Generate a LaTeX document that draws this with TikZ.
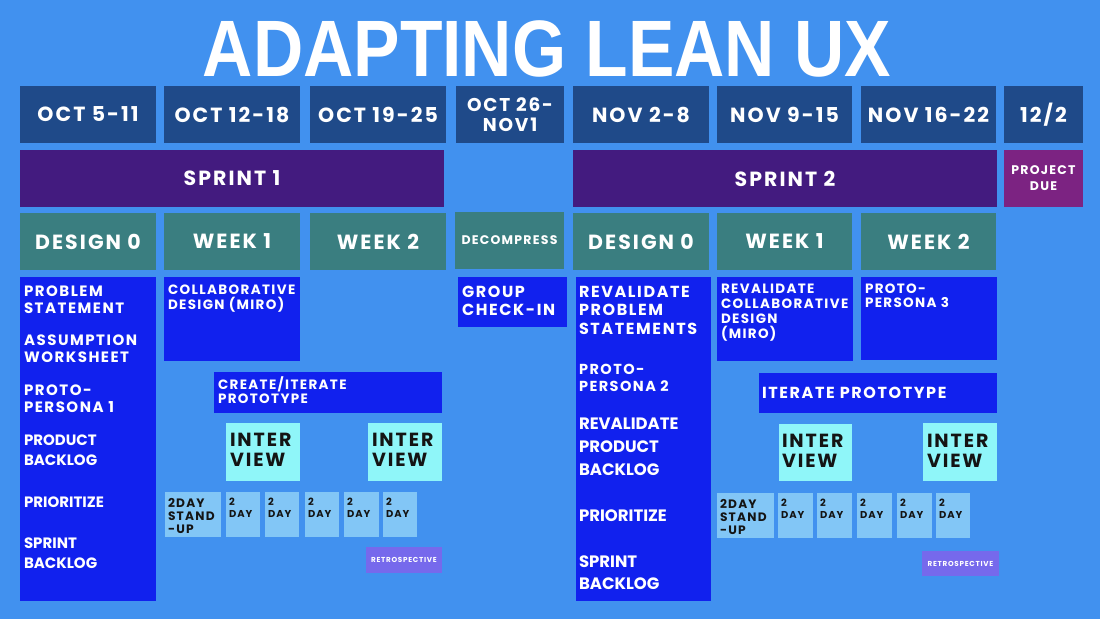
\documentclass[tikz,border=0pt]{standalone}
\usepackage{fontspec}
\usepackage{graphicx}
\setmainfont{Poppins}
\newfontfamily\titlefont{Liberation Sans}
\newfontfamily\widefam[LetterSpace=10]{Poppins}
\newfontfamily\tightfam{Poppins}
\newcommand\fw[2]{\widefam\bfseries\fontsize{#1}{#2}\selectfont}
\newcommand\ft[2]{\tightfam\bfseries\fontsize{#1}{#2}\selectfont}
\definecolor{bgC}{HTML}{4191EF}
\definecolor{dateC}{HTML}{1F4A89}
\definecolor{sprintC}{HTML}{431B7F}
\definecolor{dueC}{HTML}{7C2382}
\definecolor{tealC}{HTML}{3A7E80}
\definecolor{royalC}{HTML}{1121EE}
\definecolor{cyanC}{HTML}{8FF6F9}
\definecolor{skyC}{HTML}{82C6F6}
\definecolor{retroC}{HTML}{7669EC}
\definecolor{inkC}{HTML}{141414}
\newcommand\bx[7]{\node[#6, minimum width={(#4-#2)*1pt}, minimum height={(#5-#3)*1pt}] (#1) at ({(#2+#4)/2},{(#3+#5)/2}) {#7};}
\tikzset{
  box/.style={rectangle, inner sep=0pt, outer sep=0pt, align=center, text=white},
  datebox/.style={box, fill=dateC, font=\fw{20.5}{22}},
  sprintbox/.style={box, fill=sprintC, font=\fw{20.5}{22}},
  duebox/.style={box, fill=dueC, font=\fw{12.5}{16}},
  weekbox/.style={box, fill=tealC, font=\fw{20.5}{22}},
  bluebox/.style={box, fill=royalC},
  interbox/.style={box, fill=cyanC},
  daybox/.style={box, fill=skyC},
  retrobox/.style={box, fill=retroC, font=\fw{7.2}{8}},
  txt/.style={anchor=base west, align=left, inner sep=0pt, outer sep=0pt, text=white},
  inktxt/.style={txt, text=inkC},
}
\begin{document}
\begin{tikzpicture}[x=1pt,y=-1pt]
\fill[bgC] (0,0) rectangle (1100,619);
\useasboundingbox (0,0) rectangle (1100,619);
% title
\node[anchor=base, inner sep=0pt, text=white, font=\titlefont\bfseries\fontsize{80}{80}\selectfont] (title) at (547,76) {\scalebox{0.87}[1]{ADAPTING LEAN UX}};
% dates
\bx{d1}{20}{86}{156}{143}{datebox}{OCT 5-11}
\bx{d2}{164}{86}{300}{143}{datebox}{OCT 12-18}
\bx{d3}{310}{86}{446}{143}{datebox}{OCT 19-25}
\bx{d4}{456}{86}{564}{143}{datebox, font=\fw{18.5}{20}}{OCT 26-\\NOV1}
\bx{d5}{573}{86}{709}{143}{datebox}{NOV 2-8}
\bx{d6}{717}{86}{852}{143}{datebox}{NOV 9-15}
\bx{d7}{861}{86}{996}{143}{datebox}{NOV 16-22}
\bx{d8}{1004}{86}{1083}{143}{datebox}{12/2}
% sprints
\bx{s1}{20}{150}{444}{207}{sprintbox}{SPRINT 1}
\bx{s2}{573}{150}{997}{207}{sprintbox}{SPRINT 2}
\bx{due}{1004}{150}{1083}{207}{duebox}{PROJECT\\DUE}
% weeks
\bx{w1}{20}{213}{156}{270}{weekbox}{DESIGN 0}
\bx{w2}{164}{213}{300}{270}{weekbox}{WEEK 1}
\bx{w3}{310}{213}{446}{270}{weekbox}{WEEK 2}
\bx{w4}{455}{212}{564}{269}{weekbox, font=\fw{12.5}{14}}{DECOMPRESS}
\bx{w5}{573}{213}{709}{270}{weekbox}{DESIGN 0}
\bx{w6}{717}{213}{852}{270}{weekbox}{WEEK 1}
\bx{w7}{861}{213}{996}{270}{weekbox}{WEEK 2}
% sprint 1 blue boxes (text anchors are at the baseline of the last line)
\bx{L1}{20}{277}{156}{601}{bluebox}{}
\node[txt, font=\fw{15}{17}] (l1a) at (24,313) {PROBLEM\\STATEMENT};
\node[txt, font=\fw{15}{17}] (l1b) at (24,362) {ASSUMPTION\\WORKSHEET};
\node[txt, font=\fw{15}{17}] (l1c) at (24,412) {PROTO-\\PERSONA 1};
\node[txt, font=\ft{15}{20}] (l1d) at (24,465) {PRODUCT\\BACKLOG};
\node[txt, font=\ft{15}{20}] (l1e) at (24,507) {PRIORITIZE};
\node[txt, font=\ft{15}{20}] (l1f) at (24,568) {SPRINT\\BACKLOG};
\bx{C1}{164}{277}{300}{361}{bluebox}{}
\node[txt, font=\fw{13.5}{15}] (c1t) at (168,309) {COLLABORATIVE\\DESIGN (MIRO)};
\bx{C2}{214}{372}{442}{413}{bluebox}{}
\node[txt, font=\fw{13.5}{14.5}] (c2t) at (218,403.5) {CREATE/ITERATE\\PROTOTYPE};
% interviews sprint 1
\bx{I1}{226}{423}{300}{481}{interbox}{}
\node[inktxt, font=\fw{19}{20}] (i1t) at (230,466) {INTER\\VIEW};
\bx{I2}{368}{423}{442}{481}{interbox}{}
\node[inktxt, font=\fw{19}{20}] (i2t) at (372,466) {INTER\\VIEW};
% day boxes sprint 1
\bx{A0}{165}{492}{221}{537}{daybox}{}
\node[inktxt, font=\fw{12.2}{13}] (a0t) at (168,533) {2DAY\\STAND\\-UP};
\bx{A1}{226}{492}{260}{537}{daybox}{}
\node[inktxt, font=\fw{10}{12}] (a1t) at (229,517) {2\\DAY};
\bx{A2}{265}{492}{299}{537}{daybox}{}
\node[inktxt, font=\fw{10}{12}] (a2t) at (268,517) {2\\DAY};
\bx{A3}{305}{492}{339}{537}{daybox}{}
\node[inktxt, font=\fw{10}{12}] (a3t) at (308,517) {2\\DAY};
\bx{A4}{344}{492}{379}{537}{daybox}{}
\node[inktxt, font=\fw{10}{12}] (a4t) at (347,517) {2\\DAY};
\bx{A5}{383}{492}{417}{537}{daybox}{}
\node[inktxt, font=\fw{10}{12}] (a5t) at (386,517) {2\\DAY};
\bx{R1}{366}{547}{442}{573}{retrobox}{RETROSPECTIVE}
% decompress
\bx{G}{458}{277}{567}{327}{bluebox}{}
\node[txt, font=\fw{16}{18}] (gt) at (462,315) {GROUP\\CHECK-IN};
% sprint 2 blue boxes
\bx{L2}{576}{277}{711}{601}{bluebox}{}
\node[txt, font=\fw{16}{18.5}] (l2a) at (579,334) {REVALIDATE\\PROBLEM\\STATEMENTS};
\node[txt, font=\fw{14.5}{17}] (l2b) at (579,391) {PROTO-\\PERSONA 2};
\node[txt, font=\ft{16.5}{23}] (l2c) at (579,475) {REVALIDATE\\PRODUCT\\BACKLOG};
\node[txt, font=\ft{16.5}{22}] (l2d) at (579,521) {PRIORITIZE};
\node[txt, font=\ft{16.5}{22}] (l2e) at (579,589) {SPRINT\\BACKLOG};
\bx{C3}{717}{277}{853}{361}{bluebox}{}
\node[txt, font=\fw{13.5}{14.7}] (c3t) at (721,338) {REVALIDATE\\COLLABORATIVE\\DESIGN\\(MIRO)};
\bx{C4}{861}{277}{997}{360}{bluebox}{}
\node[txt, font=\fw{13.5}{14.5}] (c4t) at (865,307.5) {PROTO-\\PERSONA 3};
\bx{C5}{759}{373}{997}{413}{bluebox}{}
\node[txt, font=\fw{16}{18}] (c5t) at (762,398) {ITERATE PROTOTYPE};
% interviews sprint 2
\bx{I3}{779}{424}{852}{481}{interbox}{}
\node[inktxt, font=\fw{19}{20}] (i3t) at (782,467) {INTER\\VIEW};
\bx{I4}{923}{423}{997}{481}{interbox}{}
\node[inktxt, font=\fw{19}{20}] (i4t) at (927,467) {INTER\\VIEW};
% day boxes sprint 2
\bx{B0}{717}{493}{774}{538}{daybox}{}
\node[inktxt, font=\fw{12.2}{13}] (b0t) at (720,534) {2DAY\\STAND\\-UP};
\bx{B1}{778}{493}{813}{538}{daybox}{}
\node[inktxt, font=\fw{10}{12}] (b1t) at (781,518) {2\\DAY};
\bx{B2}{817}{493}{852}{538}{daybox}{}
\node[inktxt, font=\fw{10}{12}] (b2t) at (820,518) {2\\DAY};
\bx{B3}{857}{493}{892}{538}{daybox}{}
\node[inktxt, font=\fw{10}{12}] (b3t) at (860,518) {2\\DAY};
\bx{B4}{897}{493}{932}{538}{daybox}{}
\node[inktxt, font=\fw{10}{12}] (b4t) at (900,518) {2\\DAY};
\bx{B5}{936}{493}{970}{538}{daybox}{}
\node[inktxt, font=\fw{10}{12}] (b5t) at (939,518) {2\\DAY};
\bx{R2}{922}{551}{999}{576}{retrobox}{RETROSPECTIVE}
\end{tikzpicture}
\end{document}
